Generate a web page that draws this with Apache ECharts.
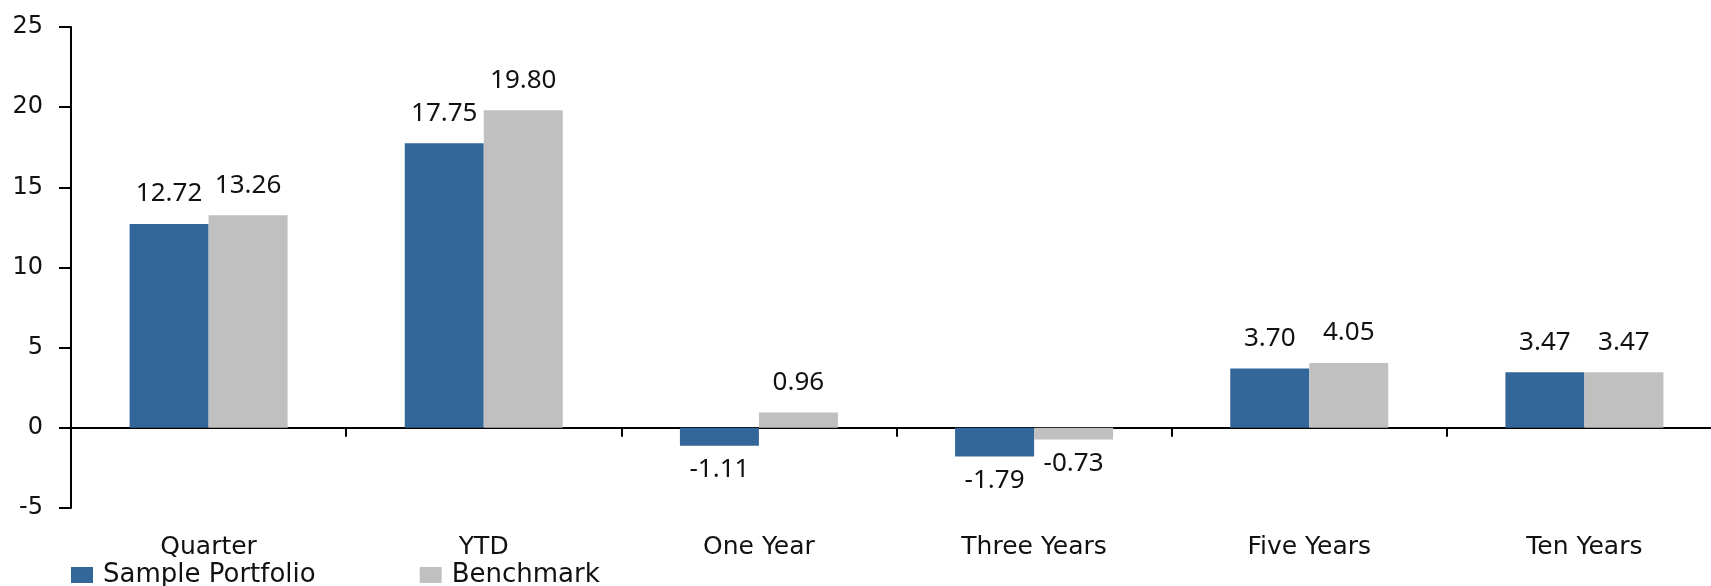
<!DOCTYPE html>
<html>
<head>
<meta charset="utf-8">
<title>Sample Portfolio vs Benchmark</title>
<script src="https://cdn.jsdelivr.net/npm/echarts@6/dist/echarts.min.js"></script>
<style>
  html, body { margin: 0; padding: 0; background: #ffffff; overflow: hidden; }
  /* the plot area runs a little past the right edge of the window */
  #chart { width: 1722px; height: 586px; }
</style>
</head>
<body>
<div id="chart"></div>
<script>
// Periods shown along the category axis
const categories = ['Quarter', 'YTD', 'One Year', 'Three Years', 'Five Years', 'Ten Years'];

// Returns (%) per period
const portfolioValues = [12.72, 17.75, -1.11, -1.79, 3.70, 3.47];
const benchmarkValues = [13.26, 19.80, 0.96, -0.73, 4.05, 3.47];

const seriesNames = ['Sample Portfolio', 'Benchmark'];
const seriesColors = ['#336699', '#C0C0C0'];

// Value axis range and step
const yMin = -5;
const yMax = 25;
const yStep = 5;

const axisFont = 'DejaVu Sans';
const labelFont = 'Noto Sans';

// Values above zero carry their label above the bar, negative ones below it
function toItems(values) {
  return values.map(function (v) {
    return {
      value: v,
      label: v < 0
        ? { position: 'bottom', distance: 11 }
        : { position: 'top', distance: 17 }
    };
  });
}

function makeSeries(name, values, color) {
  return {
    name: name,
    type: 'bar',
    xAxisIndex: 0,
    yAxisIndex: 0,
    barWidth: 79,
    barGap: '0%',
    itemStyle: { color: color },
    label: {
      show: true,
      color: '#111111',
      fontFamily: labelFont,
      fontSize: 26,
      formatter: function (p) { return p.value.toFixed(2); }
    },
    data: toItems(values)
  };
}

const chart = echarts.init(document.getElementById('chart'), null, { renderer: 'canvas' });

chart.setOption({
  animation: false,
  backgroundColor: '#ffffff',
  grid: { left: 71, top: 27, right: 0, height: 481, containLabel: false },
  legend: {
    data: seriesNames,
    left: 71,
    top: 562,
    padding: 0,
    itemWidth: 22,
    itemHeight: 16,
    itemGap: 104,
    icon: 'rect',
    textStyle: {
      fontFamily: axisFont,
      fontSize: 26,
      color: '#111111',
      padding: [0, 0, 0, 5]
    }
  },
  xAxis: [
    {
      // category labels sit along the bottom of the plot
      type: 'category',
      data: categories,
      position: 'bottom',
      axisLine: { show: false, onZero: false },
      axisTick: { show: false },
      axisLabel: {
        interval: 0,
        margin: 27,
        fontFamily: axisFont,
        fontSize: 25,
        color: '#111111'
      }
    },
    {
      // the baseline through zero with its category ticks
      type: 'category',
      data: categories,
      position: 'bottom',
      axisLine: { show: true, onZero: true, lineStyle: { color: '#000000', width: 2 } },
      axisTick: { show: true, inside: false, length: 9, lineStyle: { color: '#000000', width: 2 } },
      axisLabel: { show: false },
      splitLine: { show: false }
    }
  ],
  yAxis: {
    type: 'value',
    min: yMin,
    max: yMax,
    interval: yStep,
    axisLine: { show: true, lineStyle: { color: '#000000', width: 2 } },
    axisTick: { show: true, inside: false, length: 12, lineStyle: { color: '#000000', width: 2 } },
    axisLabel: {
      margin: 28,
      fontFamily: axisFont,
      fontSize: 24,
      color: '#111111'
    },
    splitLine: { show: false }
  },
  series: [
    makeSeries(seriesNames[0], portfolioValues, seriesColors[0]),
    makeSeries(seriesNames[1], benchmarkValues, seriesColors[1])
  ]
});
</script>
</body>
</html>
